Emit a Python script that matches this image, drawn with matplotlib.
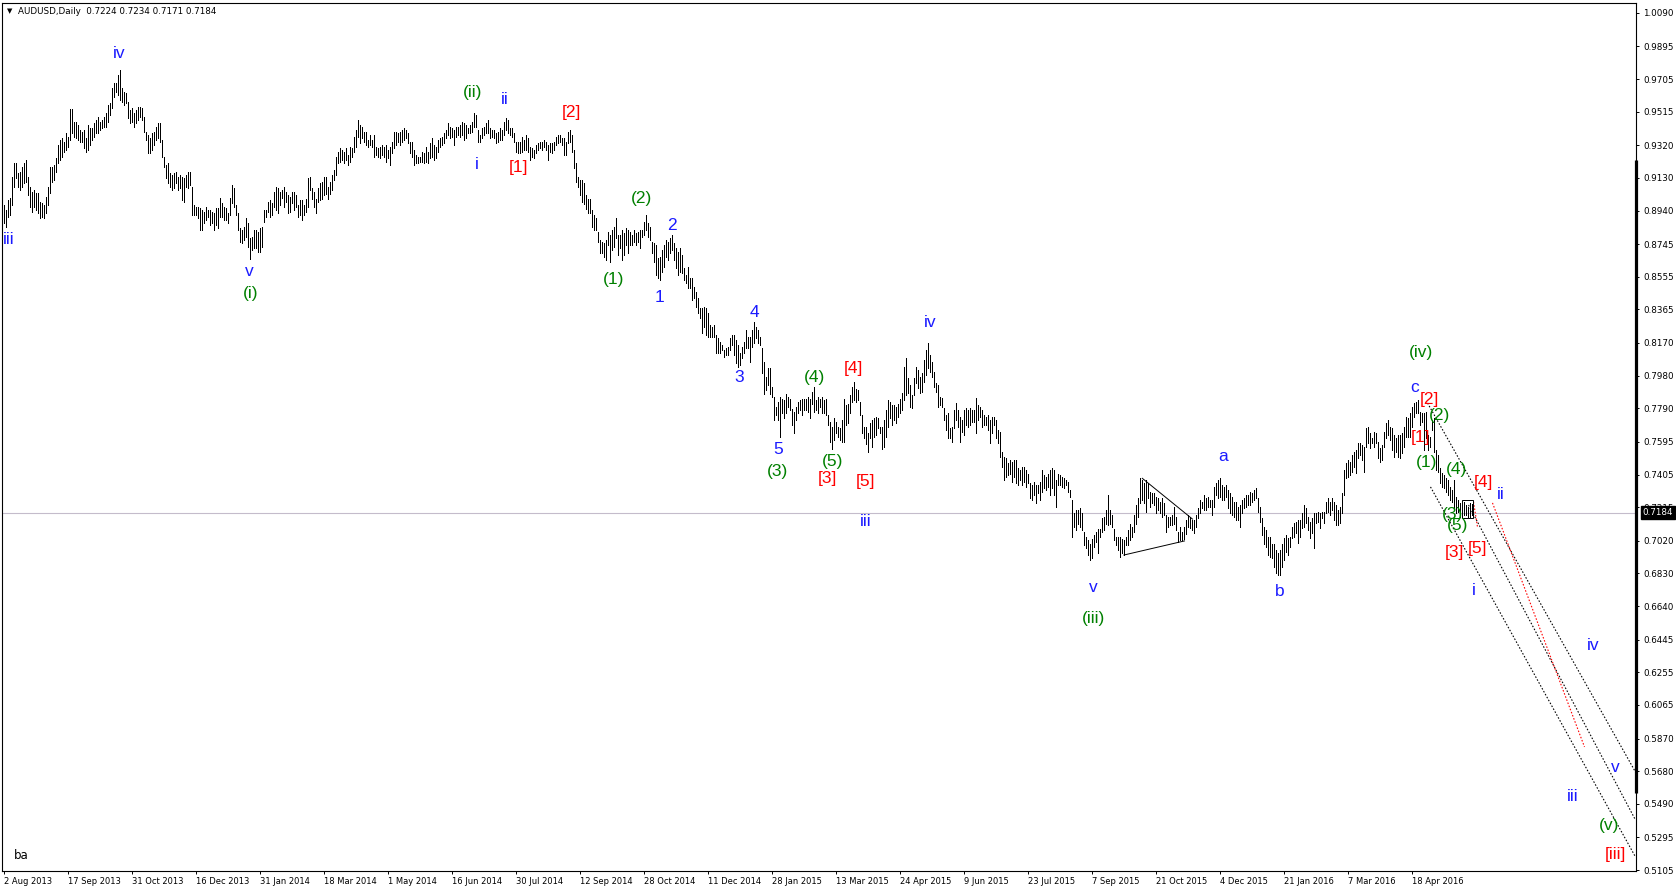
import matplotlib
matplotlib.use('Agg')
import matplotlib.pyplot as plt
import matplotlib.transforms as mtransforms
from matplotlib.patches import Rectangle
import numpy as np

symbol = "AUDUSD,Daily"
last_ohlc = [0.7224, 0.7234, 0.7171, 0.7184]

# daily highs / lows, one per trading day from 2 Aug 2013
highs = [
    0.8972, 0.8943, 0.9001, 0.9011, 0.9137, 0.9214, 0.9214, 0.9156, 0.9166, 0.9195,
    0.9214, 0.9234, 0.9137, 0.9079, 0.9050, 0.9059, 0.9040, 0.9040, 0.8991, 0.8982,
    0.8972, 0.9020, 0.9079, 0.9195, 0.9195, 0.9205, 0.9244, 0.9321, 0.9350, 0.9360,
    0.9341, 0.9389, 0.9370, 0.9529, 0.9529, 0.9457, 0.9457, 0.9437, 0.9408, 0.9399,
    0.9408, 0.9360, 0.9437, 0.9418, 0.9418, 0.9447, 0.9467, 0.9486, 0.9457, 0.9467,
    0.9486, 0.9505, 0.9554, 0.9564, 0.9651, 0.9680, 0.9680, 0.9729, 0.9758, 0.9651,
    0.9632, 0.9622, 0.9573, 0.9525, 0.9535, 0.9505, 0.9525, 0.9544, 0.9544, 0.9535,
    0.9486, 0.9399, 0.9379, 0.9360, 0.9389, 0.9399, 0.9428, 0.9447, 0.9447, 0.9350,
    0.9253, 0.9205, 0.9214, 0.9156, 0.9147, 0.9156, 0.9166, 0.9137, 0.9147, 0.9137,
    0.9127, 0.9147, 0.9166, 0.9166, 0.9079, 0.8972, 0.8962, 0.8962, 0.8953, 0.8943,
    0.8933, 0.8962, 0.8943, 0.8943, 0.8933, 0.8923, 0.8953, 0.8953, 0.9011, 0.8982,
    0.8962, 0.8953, 0.8923, 0.9011, 0.9088, 0.9069, 0.8972, 0.8923, 0.8836, 0.8826,
    0.8846, 0.8894, 0.8865, 0.8778, 0.8788, 0.8826, 0.8826, 0.8817, 0.8836, 0.8846,
    0.8943, 0.8943, 0.8991, 0.9001, 0.8982, 0.9050, 0.9079, 0.9069, 0.9050, 0.9059,
    0.9079, 0.9050, 0.9030, 0.9020, 0.9050, 0.9050, 0.9030, 0.8972, 0.9001,
    0.9001, 0.8972, 0.9010, 0.9127, 0.9136, 0.9069, 0.9049, 0.9010, 0.9069, 0.9098,
    0.9107, 0.9136, 0.9136, 0.9078, 0.9107, 0.9146, 0.9175, 0.9253, 0.9282, 0.9301,
    0.9292, 0.9282, 0.9301, 0.9263, 0.9311, 0.9301, 0.9369, 0.9408, 0.9466, 0.9437,
    0.9427, 0.9398, 0.9398, 0.9350, 0.9379, 0.9350, 0.9379, 0.9311, 0.9301, 0.9311,
    0.9321, 0.9311, 0.9321, 0.9292, 0.9311, 0.9340, 0.9398, 0.9398, 0.9389, 0.9398,
    0.9408, 0.9418, 0.9408, 0.9389, 0.9340, 0.9340, 0.9292, 0.9263, 0.9253, 0.9253,
    0.9282, 0.9272, 0.9311, 0.9282, 0.9330, 0.9360, 0.9321, 0.9311, 0.9350, 0.9360,
    0.9369, 0.9389, 0.9408, 0.9447, 0.9427, 0.9418, 0.9408, 0.9427, 0.9427, 0.9437,
    0.9456, 0.9447, 0.9437, 0.9418, 0.9437, 0.9456, 0.9509, 0.9495, 0.9408, 0.9379,
    0.9418, 0.9427, 0.9447, 0.9466, 0.9418, 0.9408, 0.9408, 0.9389, 0.9398, 0.9418,
    0.9408, 0.9456, 0.9476, 0.9466, 0.9418, 0.9418, 0.9389, 0.9340, 0.9340, 0.9340,
    0.9369, 0.9350, 0.9379, 0.9360, 0.9311, 0.9301, 0.9292, 0.9321, 0.9330, 0.9340,
    0.9340, 0.9350, 0.9340, 0.9321, 0.9330, 0.9330, 0.9340, 0.9369, 0.9379, 0.9379,
    0.9360, 0.9360, 0.9340, 0.9398, 0.9408, 0.9379, 0.9292, 0.9214, 0.9136, 0.9117,
    0.9117, 0.9098, 0.9030, 0.9010, 0.9010,
    0.8943, 0.8914, 0.8895, 0.8817, 0.8769, 0.8759, 0.8749, 0.8769, 0.8817, 0.8798,
    0.8827, 0.8846, 0.8895, 0.8798, 0.8798, 0.8827, 0.8808, 0.8837, 0.8827, 0.8817,
    0.8798, 0.8827, 0.8808, 0.8817, 0.8827, 0.8827, 0.8876, 0.8914, 0.8866, 0.8846,
    0.8759, 0.8749, 0.8740, 0.8662, 0.8672, 0.8711, 0.8740, 0.8769, 0.8759, 0.8778,
    0.8798, 0.8749, 0.8720, 0.8701, 0.8720, 0.8682, 0.8604, 0.8565, 0.8614, 0.8546,
    0.8546, 0.8497, 0.8468, 0.8429, 0.8371, 0.8371, 0.8381, 0.8371, 0.8342, 0.8274,
    0.8264, 0.8274, 0.8216, 0.8197, 0.8177, 0.8158, 0.8129, 0.8138, 0.8148, 0.8197,
    0.8216, 0.8216, 0.8187, 0.8158, 0.8109, 0.8148, 0.8177, 0.8245, 0.8206, 0.8206,
    0.8245, 0.8294, 0.8264, 0.8245, 0.8206, 0.8138, 0.8061, 0.7973, 0.8022, 0.8022,
    0.7915, 0.7857, 0.7799, 0.7828, 0.7857, 0.7847, 0.7838, 0.7876, 0.7857, 0.7847,
    0.7789, 0.7770, 0.7799, 0.7828, 0.7838, 0.7847, 0.7847, 0.7847, 0.7857, 0.7847,
    0.7886, 0.7915, 0.7838, 0.7857, 0.7847, 0.7857, 0.7838, 0.7847, 0.7750, 0.7712,
    0.7682, 0.7731, 0.7712, 0.7682, 0.7673, 0.7721, 0.7847, 0.7809, 0.7818, 0.7867,
    0.7915, 0.7944, 0.7905, 0.7896, 0.7828, 0.7750, 0.7682, 0.7682, 0.7644, 0.7702,
    0.7721, 0.7731, 0.7741, 0.7731, 0.7682, 0.7682, 0.7721, 0.7779, 0.7838, 0.7828,
    0.7809, 0.7809, 0.7799, 0.7818, 0.7847,
    0.7877, 0.8032, 0.8081, 0.7964, 0.7926, 0.7867, 0.7964, 0.8032, 0.8013, 0.7974,
    0.7993, 0.8071, 0.8129, 0.8168, 0.8100, 0.8061, 0.8003, 0.7935, 0.7926, 0.7858,
    0.7848, 0.7790, 0.7751, 0.7761, 0.7673, 0.7683, 0.7780, 0.7819, 0.7780, 0.7741,
    0.7722, 0.7780, 0.7790, 0.7780, 0.7790, 0.7780, 0.7780, 0.7848, 0.7809, 0.7799,
    0.7780, 0.7751, 0.7741, 0.7751, 0.7722, 0.7741, 0.7741, 0.7722, 0.7664, 0.7654,
    0.7538, 0.7508, 0.7499, 0.7470, 0.7489, 0.7479, 0.7489, 0.7489, 0.7441, 0.7431,
    0.7450, 0.7450, 0.7431, 0.7411, 0.7353, 0.7344, 0.7363, 0.7344, 0.7344, 0.7363,
    0.7431, 0.7402, 0.7392, 0.7411, 0.7431, 0.7441, 0.7431, 0.7373, 0.7411, 0.7402,
    0.7392, 0.7382, 0.7373, 0.7363, 0.7314, 0.7256, 0.7179, 0.7198, 0.7198, 0.7208,
    0.7179, 0.7072, 0.7043, 0.7023, 0.7004, 0.7033, 0.7053, 0.7072, 0.7091, 0.7091,
    0.7150, 0.7159, 0.7198, 0.7285, 0.7198, 0.7169, 0.7091, 0.7043, 0.7043, 0.7043,
    0.7033, 0.7023, 0.7043, 0.7082, 0.7120, 0.7101, 0.7169, 0.7227, 0.7266, 0.7382,
    0.7373, 0.7353, 0.7373, 0.7353, 0.7305, 0.7295, 0.7295, 0.7276, 0.7266, 0.7247,
    0.7266, 0.7237, 0.7169, 0.7159, 0.7159, 0.7169, 0.7217, 0.7159, 0.7072, 0.7101,
    0.7072, 0.7101, 0.7140, 0.7169,
    0.7160, 0.7140, 0.7140, 0.7169, 0.7208, 0.7257, 0.7247, 0.7286, 0.7266, 0.7276,
    0.7257, 0.7257, 0.7334, 0.7354, 0.7373, 0.7383, 0.7344, 0.7334, 0.7344, 0.7315,
    0.7295, 0.7276, 0.7247, 0.7247, 0.7218, 0.7228, 0.7257, 0.7266, 0.7286, 0.7286,
    0.7305, 0.7295, 0.7315, 0.7325, 0.7266, 0.7218, 0.7150, 0.7101, 0.7082, 0.7043,
    0.7043, 0.7004, 0.7004, 0.6966, 0.6946, 0.6966, 0.7004, 0.7034, 0.7053, 0.7034,
    0.7043, 0.7101, 0.7121, 0.7131, 0.7140, 0.7140, 0.7179, 0.7228, 0.7208, 0.7160,
    0.7131, 0.7150, 0.7179, 0.7179, 0.7189, 0.7179, 0.7189, 0.7189, 0.7247, 0.7266,
    0.7247, 0.7266, 0.7247, 0.7228, 0.7198, 0.7218, 0.7295, 0.7431, 0.7470, 0.7489,
    0.7480, 0.7519, 0.7538, 0.7548, 0.7586, 0.7586, 0.7577, 0.7567, 0.7674, 0.7683,
    0.7645, 0.7616, 0.7654, 0.7645, 0.7596, 0.7557, 0.7577, 0.7654, 0.7703, 0.7722,
    0.7683, 0.7674, 0.7635, 0.7616, 0.7635, 0.7635, 0.7645, 0.7683, 0.7742, 0.7732,
    0.7761, 0.7800, 0.7819, 0.7829, 0.7839, 0.7771, 0.7761, 0.7761, 0.7771, 0.7635,
    0.7625, 0.7722, 0.7732, 0.7548, 0.7519, 0.7441, 0.7412, 0.7402, 0.7383, 0.7373,
    0.7334, 0.7315, 0.7373, 0.7276, 0.7257, 0.7237, 0.7228, 0.7247, 0.7228, 0.7218,
    0.7237, 0.7234,
]

lows = [
    0.8865, 0.8846, 0.8904, 0.8914, 0.8972, 0.9079, 0.9127, 0.9079, 0.9059, 0.9079,
    0.9098, 0.9108, 0.9030, 0.8962, 0.8933, 0.8962, 0.8943, 0.8923, 0.8894, 0.8904,
    0.8894, 0.8923, 0.8972, 0.9040, 0.9108, 0.9117, 0.9166, 0.9214, 0.9234, 0.9253,
    0.9282, 0.9292, 0.9311, 0.9350, 0.9389, 0.9370, 0.9360, 0.9350, 0.9341, 0.9341,
    0.9302, 0.9282, 0.9292, 0.9321, 0.9350, 0.9370, 0.9389, 0.9389, 0.9408, 0.9418,
    0.9428, 0.9428, 0.9457, 0.9496, 0.9535, 0.9602, 0.9632, 0.9612, 0.9583, 0.9573,
    0.9554, 0.9564, 0.9476, 0.9447, 0.9457, 0.9428, 0.9447, 0.9467, 0.9486, 0.9467,
    0.9399, 0.9350, 0.9273, 0.9273, 0.9292, 0.9321, 0.9350, 0.9360, 0.9341, 0.9253,
    0.9195, 0.9127, 0.9098, 0.9079, 0.9059, 0.9069, 0.9098, 0.9059, 0.9069, 0.9001,
    0.8991, 0.9079, 0.9069, 0.9088, 0.8914, 0.8914, 0.8914, 0.8894, 0.8826, 0.8826,
    0.8865, 0.8885, 0.8904, 0.8856, 0.8865, 0.8826, 0.8856, 0.8836, 0.8904, 0.8904,
    0.8885, 0.8885, 0.8865, 0.8914, 0.8982, 0.8962, 0.8914, 0.8826, 0.8759, 0.8749,
    0.8768, 0.8788, 0.8729, 0.8661, 0.8710, 0.8720, 0.8720, 0.8700, 0.8700, 0.8729,
    0.8875, 0.8904, 0.8933, 0.8904, 0.8914, 0.8962, 0.8943, 0.8923, 0.8972, 0.9011,
    0.8962, 0.8991, 0.8923, 0.8933, 0.8982, 0.8943, 0.8962, 0.8904, 0.8914,
    0.8888, 0.8913, 0.8933, 0.8962, 0.9059, 0.9010, 0.8962, 0.8923, 0.8991, 0.9001,
    0.9010, 0.9030, 0.9039, 0.9010, 0.9039, 0.9059, 0.9117, 0.9146, 0.9214, 0.9224,
    0.9233, 0.9214, 0.9233, 0.9204, 0.9224, 0.9253, 0.9282, 0.9311, 0.9369, 0.9330,
    0.9360, 0.9340, 0.9321, 0.9311, 0.9321, 0.9311, 0.9253, 0.9263, 0.9253, 0.9243,
    0.9263, 0.9253, 0.9224, 0.9243, 0.9204, 0.9272, 0.9301, 0.9321, 0.9340, 0.9321,
    0.9340, 0.9350, 0.9360, 0.9330, 0.9272, 0.9253, 0.9204, 0.9214, 0.9214, 0.9224,
    0.9224, 0.9214, 0.9224, 0.9214, 0.9243, 0.9253, 0.9233, 0.9243, 0.9282, 0.9311,
    0.9321, 0.9330, 0.9360, 0.9379, 0.9360, 0.9369, 0.9321, 0.9369, 0.9379, 0.9369,
    0.9379, 0.9350, 0.9360, 0.9389, 0.9389, 0.9398, 0.9427, 0.9427, 0.9340, 0.9340,
    0.9360, 0.9379, 0.9389, 0.9389, 0.9360, 0.9369, 0.9360, 0.9330, 0.9340, 0.9350,
    0.9350, 0.9379, 0.9408, 0.9389, 0.9379, 0.9369, 0.9340, 0.9282, 0.9272, 0.9272,
    0.9282, 0.9292, 0.9292, 0.9282, 0.9233, 0.9253, 0.9243, 0.9272, 0.9292, 0.9301,
    0.9292, 0.9311, 0.9292, 0.9233, 0.9282, 0.9272, 0.9292, 0.9321, 0.9330, 0.9340,
    0.9321, 0.9263, 0.9263, 0.9330, 0.9340, 0.9282, 0.9185, 0.9107, 0.9078, 0.9030,
    0.8991, 0.8981, 0.8952, 0.8923, 0.8923,
    0.8846, 0.8827, 0.8827, 0.8759, 0.8691, 0.8691, 0.8672, 0.8652, 0.8740, 0.8643,
    0.8711, 0.8730, 0.8778, 0.8682, 0.8720, 0.8652, 0.8682, 0.8740, 0.8691, 0.8740,
    0.8740, 0.8759, 0.8740, 0.8759, 0.8720, 0.8788, 0.8798, 0.8827, 0.8788, 0.8769,
    0.8691, 0.8643, 0.8565, 0.8546, 0.8536, 0.8585, 0.8614, 0.8672, 0.8652, 0.8691,
    0.8711, 0.8652, 0.8604, 0.8565, 0.8585, 0.8575, 0.8536, 0.8517, 0.8488, 0.8488,
    0.8420, 0.8429, 0.8381, 0.8342, 0.8313, 0.8226, 0.8264, 0.8216, 0.8206, 0.8206,
    0.8206, 0.8206, 0.8109, 0.8109, 0.8109, 0.8129, 0.8090, 0.8100, 0.8100, 0.8129,
    0.8158, 0.8100, 0.8051, 0.8032, 0.8041, 0.8080, 0.8109, 0.8138, 0.8138, 0.8061,
    0.8148, 0.8168, 0.8197, 0.8168, 0.8158, 0.7993, 0.7876, 0.7896, 0.7925, 0.7876,
    0.7857, 0.7721, 0.7750, 0.7721, 0.7624, 0.7760, 0.7731, 0.7760, 0.7799, 0.7779,
    0.7692, 0.7644, 0.7721, 0.7760, 0.7779, 0.7750, 0.7779, 0.7779, 0.7770, 0.7731,
    0.7818, 0.7770, 0.7779, 0.7760, 0.7799, 0.7760, 0.7760, 0.7750, 0.7692, 0.7595,
    0.7556, 0.7605, 0.7644, 0.7624, 0.7605, 0.7595, 0.7595, 0.7692, 0.7702, 0.7760,
    0.7828, 0.7838, 0.7828, 0.7838, 0.7750, 0.7644, 0.7615, 0.7585, 0.7537, 0.7615,
    0.7566, 0.7624, 0.7634, 0.7673, 0.7644, 0.7556, 0.7566, 0.7624, 0.7682, 0.7731,
    0.7692, 0.7721, 0.7702, 0.7741, 0.7760,
    0.7780, 0.7838, 0.7867, 0.7877, 0.7799, 0.7790, 0.7867, 0.7935, 0.7906, 0.7877,
    0.7887, 0.7945, 0.7984, 0.8022, 0.8003, 0.7974, 0.7916, 0.7887, 0.7799, 0.7809,
    0.7799, 0.7722, 0.7664, 0.7615, 0.7615, 0.7596, 0.7673, 0.7722, 0.7683, 0.7596,
    0.7654, 0.7635, 0.7693, 0.7683, 0.7693, 0.7712, 0.7712, 0.7644, 0.7722, 0.7741,
    0.7683, 0.7693, 0.7693, 0.7664, 0.7586, 0.7644, 0.7693, 0.7615, 0.7586, 0.7508,
    0.7450, 0.7373, 0.7392, 0.7402, 0.7411, 0.7363, 0.7392, 0.7353, 0.7344, 0.7373,
    0.7344, 0.7363, 0.7334, 0.7353, 0.7266, 0.7256, 0.7285, 0.7237, 0.7295, 0.7256,
    0.7305, 0.7324, 0.7314, 0.7334, 0.7285, 0.7324, 0.7285, 0.7217, 0.7344, 0.7344,
    0.7334, 0.7324, 0.7344, 0.7305, 0.7276, 0.7043, 0.7101, 0.7082, 0.7120, 0.7101,
    0.7082, 0.6994, 0.6975, 0.6936, 0.6907, 0.6917, 0.6985, 0.7014, 0.6946, 0.7043,
    0.7072, 0.7082, 0.7120, 0.7111, 0.7120, 0.7101, 0.7023, 0.6994, 0.6965, 0.6926,
    0.6946, 0.6936, 0.6994, 0.6994, 0.7023, 0.7043, 0.7072, 0.7120, 0.7159, 0.7237,
    0.7256, 0.7237, 0.7188, 0.7266, 0.7217, 0.7237, 0.7227, 0.7179, 0.7198, 0.7179,
    0.7159, 0.7169, 0.7072, 0.7101, 0.7111, 0.7111, 0.7120, 0.7082, 0.7014, 0.7023,
    0.7023, 0.7033, 0.7062, 0.7101,
    0.7092, 0.7082, 0.7063, 0.7101, 0.7150, 0.7179, 0.7208, 0.7198, 0.7198, 0.7218,
    0.7218, 0.7169, 0.7218, 0.7286, 0.7266, 0.7276, 0.7257, 0.7257, 0.7276, 0.7208,
    0.7179, 0.7169, 0.7160, 0.7140, 0.7140, 0.7101, 0.7179, 0.7208, 0.7218, 0.7228,
    0.7228, 0.7247, 0.7257, 0.7266, 0.7189, 0.7131, 0.7053, 0.7004, 0.6985, 0.6937,
    0.6927, 0.6917, 0.6869, 0.6830, 0.6820, 0.6820, 0.6869, 0.6907, 0.6956, 0.6937,
    0.6985, 0.7034, 0.7043, 0.7063, 0.7005, 0.7043, 0.7092, 0.7101, 0.7121, 0.7082,
    0.7034, 0.7063, 0.6975, 0.7121, 0.7131, 0.7092, 0.7150, 0.7121, 0.7179, 0.7189,
    0.7169, 0.7198, 0.7140, 0.7111, 0.7111, 0.7121, 0.7179, 0.7286, 0.7383, 0.7392,
    0.7402, 0.7422, 0.7451, 0.7412, 0.7499, 0.7519, 0.7489, 0.7422, 0.7567, 0.7586,
    0.7557, 0.7586, 0.7567, 0.7586, 0.7499, 0.7480, 0.7489, 0.7567, 0.7616, 0.7635,
    0.7606, 0.7548, 0.7509, 0.7538, 0.7509, 0.7499, 0.7528, 0.7567, 0.7625, 0.7625,
    0.7625, 0.7683, 0.7742, 0.7761, 0.7761, 0.7693, 0.7713, 0.7548, 0.7616, 0.7548,
    0.7567, 0.7664, 0.7538, 0.7431, 0.7422, 0.7354, 0.7334, 0.7325, 0.7305, 0.7286,
    0.7257, 0.7247, 0.7208, 0.7179, 0.7189, 0.7160, 0.7150, 0.7169, 0.7169, 0.7160,
    0.7160, 0.7171,
]

date_labels = ["2 Aug 2013", "17 Sep 2013", "31 Oct 2013", "16 Dec 2013", "31 Jan 2014",
               "18 Mar 2014", "1 May 2014", "16 Jun 2014", "30 Jul 2014", "12 Sep 2014",
               "28 Oct 2014", "11 Dec 2014", "28 Jan 2015", "13 Mar 2015", "24 Apr 2015",
               "9 Jun 2015", "23 Jul 2015", "7 Sep 2015", "21 Oct 2015", "4 Dec 2015",
               "21 Jan 2016", "7 Mar 2016", "18 Apr 2016"]

price_ticks = [1.0090, 0.9895, 0.9705, 0.9515, 0.9320, 0.9130, 0.8940, 0.8745, 0.8555,
               0.8365, 0.8170, 0.7980, 0.7790, 0.7595, 0.7405, 0.7215, 0.7020, 0.6830,
               0.6640, 0.6445, 0.6255, 0.6065, 0.5870, 0.5680, 0.5490, 0.5295, 0.5105]

BLUE = '#1a1aff'
GREEN = '#008000'
RED = '#ff0000'

# wave labels: text, bar, price, colour
wave_labels = [
    ("iii", 2.8, 0.8772, BLUE), ("iv", 57.8, 0.9854, BLUE), ("v", 123.0, 0.8586, BLUE),
    ("(i)", 123.6, 0.8455, GREEN), ("(ii)", 234.7, 0.9624, GREEN), ("ii", 250.8, 0.9587, BLUE),
    ("i", 236.9, 0.9207, BLUE), ("[1]", 257.7, 0.9189, RED), ("[2]", 283.9, 0.9512, RED),
    ("(2)", 319.2, 0.9008, GREEN), ("(1)", 304.8, 0.8542, GREEN), ("2", 334.2, 0.8853, BLUE),
    ("1", 327.8, 0.8437, BLUE), ("4", 375.3, 0.8350, BLUE), ("3", 367.8, 0.7970, BLUE),
    ("5", 387.1, 0.7548, BLUE), ("(3)", 387.1, 0.7423, GREEN), ("(4)", 405.3, 0.7970, GREEN),
    ("(5)", 414.3, 0.7479, GREEN), ("[3]", 412.2, 0.7380, RED), ("[4]", 425.0, 0.8020, RED),
    ("[5]", 430.9, 0.7367, RED), ("iii", 430.9, 0.7131, BLUE), ("iv", 463.5, 0.8287, BLUE),
    ("v", 544.8, 0.6746, BLUE), ("(iii)", 544.8, 0.6566, GREEN), ("a", 610.0, 0.7510, BLUE),
    ("b", 638.3, 0.6727, BLUE), ("(iv)", 708.9, 0.8113, GREEN), ("c", 705.6, 0.7914, BLUE),
    ("[2]", 713.1, 0.7840, RED), ("(2)", 718.0, 0.7747, GREEN), ("[1]", 708.3, 0.7622, RED),
    ("(1)", 711.5, 0.7473, GREEN), ("(4)", 726.5, 0.7436, GREEN), ("[4]", 739.9, 0.7361, RED),
    ("ii", 748.4, 0.7287, BLUE), ("(3)", 724.4, 0.7175, GREEN), ("(5)", 727.0, 0.7107, GREEN),
    ("[3]", 725.4, 0.6951, RED), ("[5]", 737.2, 0.6976, RED), ("i", 735.0, 0.6733, BLUE),
    ("iv", 794.9, 0.6410, BLUE), ("iii", 784.8, 0.5534, BLUE), ("v", 806.1, 0.5701, BLUE),
    ("(v)", 802.9, 0.5366, GREEN), ("[iii]", 806.1, 0.5198, RED),
]

# drawn objects: (bar0, price0, bar1, price1)
triangle_lines = [(569.4, 0.7383, 594.5, 0.7146), (560.2, 0.6937, 590.5, 0.7019)]
channel_lines = [(712.0, 0.7821, 816.0, 0.5675), (732.5, 0.7228, 816.0, 0.5396),
                 (713.5, 0.7333, 816.0, 0.5181)]
red_lines = [(744.5, 0.7240, 790.5, 0.5821), (735.0, 0.7246, 737.0, 0.7100)]

fig = plt.figure(figsize=(16.76, 8.94), dpi=100)
ax = fig.add_axes([2 / 1676, 23 / 894, 1634 / 1676, 868 / 894])
ax.set_xlim(-0.75, 816.25)
ax.set_ylim(0.50996, 1.0147)

n = min(len(highs), len(lows))
x = np.arange(n)
ax.vlines(x, lows[:n], highs[:n], colors='black', linewidth=0.5, antialiased=False, zorder=3)

ax.axhline(last_ohlc[3], color='#c4bccb', lw=0.8, zorder=1)

for x0, y0, x1, y1 in triangle_lines:
    ax.plot([x0, x1], [y0, y1], color='black', lw=0.7, zorder=4)
for x0, y0, x1, y1 in channel_lines:
    ax.plot([x0, x1], [y0, y1], color='black', lw=0.8, ls=(0, (1.4, 1.6)), zorder=4)
for x0, y0, x1, y1 in red_lines:
    ax.plot([x0, x1], [y0, y1], color=RED, lw=0.8, ls=(0, (1.4, 1.6)), zorder=4)
ax.add_patch(Rectangle((729, 0.7155), 5.5, 0.0103, fill=False, ec='black', lw=0.7, zorder=4))

for txt, bx, py, col in wave_labels:
    ax.text(bx, py, txt, color=col, fontsize=12.5, ha='center', va='center',
            family='Liberation Sans', zorder=5)
ax.text(8.7, 0.5192, "ba", color='black', fontsize=8.5, ha='center', va='center',
        family='DejaVu Sans')

# axes
for s in ax.spines.values():
    s.set_linewidth(0.8)
    s.set_color('black')
ax.yaxis.tick_right()
ax.set_yticks(price_ticks)
ax.set_yticklabels([f"{v:.4f}" for v in price_ticks])
ax.tick_params(axis='y', direction='out', length=2.5, width=0.7, pad=2.5, labelsize=6.3,
               right=True, left=False)
ax.set_xticks(np.arange(len(date_labels)) * 32)
ax.set_xticklabels(date_labels)
ax.tick_params(axis='x', direction='out', length=2.5, width=0.7, pad=1.5, labelsize=6.0,
               bottom=True, top=False)
for lbl in ax.get_xticklabels():
    lbl.set_ha('left')

trans = mtransforms.blended_transform_factory(ax.transAxes, ax.transData)
ax.plot([1, 1], [0.9234, 0.5553], transform=trans, color='black', lw=2.3,
        solid_capstyle='butt', clip_on=False, zorder=6)
ax.annotate(f"{last_ohlc[3]:.4f}", xy=(1, last_ohlc[3]), xycoords=trans,
            xytext=(4.5, 0), textcoords='offset points', color='white', fontsize=6.3,
            ha='left', va='center',
            bbox=dict(boxstyle='square,pad=0.2', fc='black', ec='black'),
            annotation_clip=False, zorder=7)

fig.text(7 / 1676, 1 - 11 / 894, "\u25bc", fontsize=5, va='center', ha='left')
fig.text(18 / 1676, 1 - 11 / 894,
         f"{symbol}  " + " ".join(f"{v:.4f}" for v in last_ohlc),
         fontsize=6.3, va='center', ha='left')

fig.savefig('out.png', dpi=100)
plt.close(fig)
